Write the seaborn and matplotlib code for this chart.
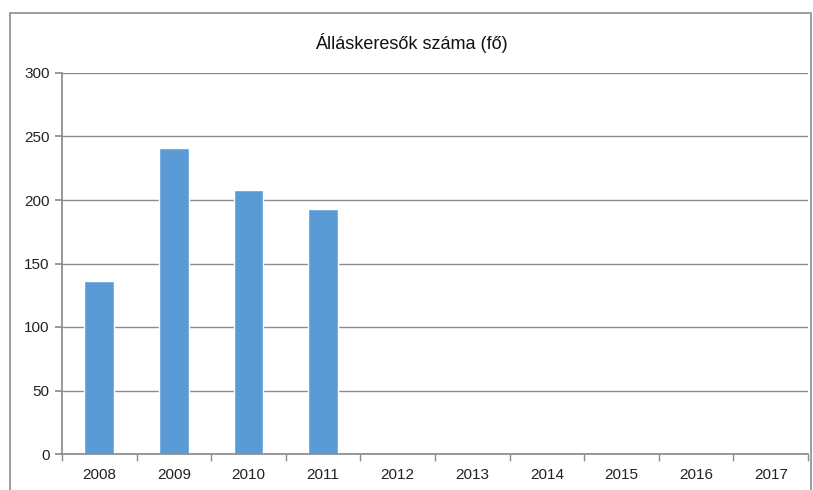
import numpy as np
import pandas as pd
import matplotlib
matplotlib.use("Agg")
import matplotlib.pyplot as plt
import seaborn as sns
from matplotlib.patches import Rectangle

years = ["2008", "2009", "2010", "2011", "2012", "2013", "2014", "2015", "2016", "2017"]
values = [136, 241, 208, 193, np.nan, np.nan, np.nan, np.nan, np.nan, np.nan]
title = "Álláskeresők száma (fő)"
yticks = [0, 50, 100, 150, 200, 250, 300]

sns.set_theme(style="white")
plt.rcParams['font.family'] = ['Liberation Sans Narrow', 'Liberation Sans', 'DejaVu Sans']

df = pd.DataFrame({"year": years, "value": values})

fig = plt.figure(figsize=(8.13, 4.90), dpi=100)
ax = fig.add_axes([62/813, 36/490, 746/813, 381/490])

sns.barplot(data=df, x="year", y="value", order=years, color="#5B9BD5",
            width=0.4, saturation=1, ax=ax)

ax.set_xlim(-0.5, len(years) - 0.5)
ax.set_ylim(0, 300)
ax.set_yticks(yticks)
ax.set_yticklabels([str(t) for t in yticks], fontsize=11, color="#222222")
ax.set_xticklabels(years, fontsize=11, color="#222222")
ax.set_xlabel("")
ax.set_ylabel("")
ax.yaxis.grid(True, color="#8c8c8c", linewidth=1)
ax.set_axisbelow(True)

for s in ["top", "right"]:
    ax.spines[s].set_visible(False)
ax.spines["left"].set_color("#8c8c8c")
ax.spines["bottom"].set_color("#8c8c8c")

ax.tick_params(axis="y", which="major", length=5, color="#8c8c8c", left=True, pad=4)
ax.tick_params(axis="x", which="major", length=0, pad=10)
ax.set_xticks(np.arange(-0.5, len(years), 1.0), minor=True)
ax.tick_params(axis="x", which="minor", length=5, color="#8c8c8c", bottom=True)

fig.text(411/813, 1 - 43/490, title, ha="center", va="center", fontsize=13, color="#111111")

fig.patches.append(Rectangle((10/813, -0.01), 801/813, (490-13)/490 + 0.01,
                             transform=fig.transFigure, fill=False,
                             edgecolor="#8c8c8c", linewidth=1.2))

fig.savefig("out.png", dpi=100, facecolor="white")
